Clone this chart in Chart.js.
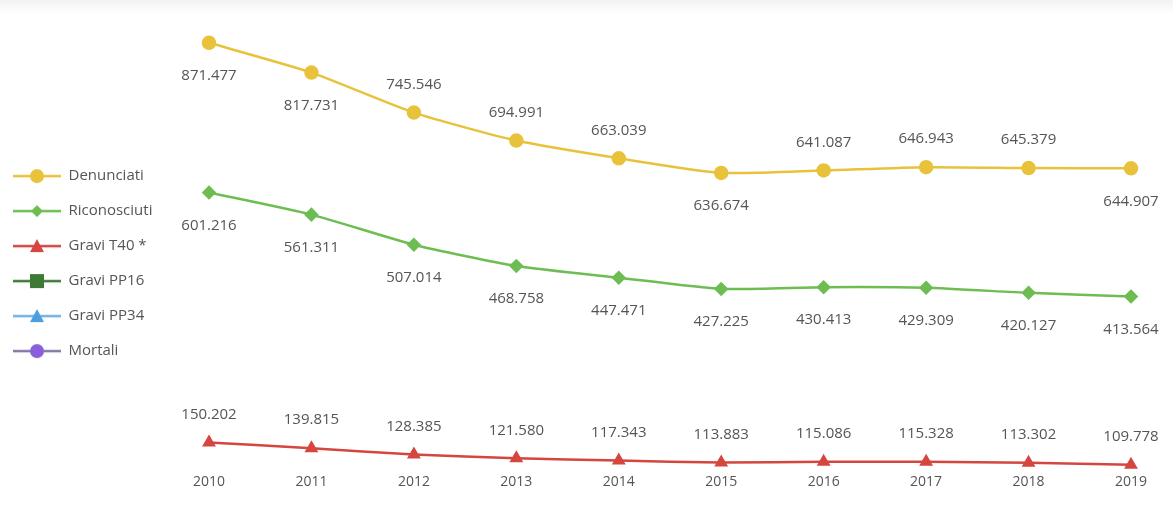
<!DOCTYPE html>
<html lang="it">
<head>
<meta charset="UTF-8">
<title>Infortuni 2010-2019</title>
<script src="https://cdn.jsdelivr.net/npm/chart.js"></script>
<style>
    html, body { margin: 0; padding: 0; background: #fff; }
    .wrap { position: relative; width: 1173px; height: 506px; }
    .top-shade { position: absolute; left: 0; top: 0; width: 1173px; height: 14px; background: linear-gradient(#f2f2f2, #fff); }
</style>
</head>
<body>
<div class="wrap">
    <div class="top-shade"></div>
    <canvas id="chart"></canvas>
</div>

<script>
const years = ['2010', '2011', '2012', '2013', '2014', '2015', '2016', '2017', '2018', '2019'];
const denunciati = [871477, 817731, 745546, 694991, 663039, 636674, 641087, 646943, 645379, 644907];
const riconosciuti = [601216, 561311, 507014, 468758, 447471, 427225, 430413, 429309, 420127, 413564];
const graviT40 = [150202, 139815, 128385, 121580, 117343, 113883, 115086, 115328, 113302, 109778];
// not visible in the picture (below the cropped area)
const graviPP16 = [];
const graviPP34 = [];
const mortali = [];

// where each value label sits relative to its point
const denunciatiLabelPos = ['below', 'below', 'above', 'above', 'above', 'below', 'above', 'above', 'above', 'below'];
const riconosciutiLabelPos = years.map(() => 'below');
const t40LabelPos = years.map(() => 'above');

const textColor = '#555555';
Chart.defaults.font.family = '"Open Sans", sans-serif';
Chart.defaults.color = textColor;

const fmt = v => String(v).replace(/\B(?=(\d{3})+(?!\d))/g, '.');

// legend symbol: short line with the marker in the middle
function legendIcon(lineColor, color, style) {
    const c = document.createElement('canvas');
    c.width = 48; c.height = 18;
    const g = c.getContext('2d');
    g.strokeStyle = lineColor;
    g.lineWidth = 2.5;
    g.beginPath(); g.moveTo(0, 9); g.lineTo(48, 9); g.stroke();
    g.fillStyle = color;
    g.beginPath();
    if (style === 'circle') g.arc(24, 9, 7, 0, Math.PI * 2);
    else if (style === 'rectRot') { g.moveTo(24, 3); g.lineTo(30, 9); g.lineTo(24, 15); g.lineTo(18, 9); g.closePath(); }
    else if (style === 'triangle') { g.moveTo(24, 2); g.lineTo(31, 15); g.lineTo(17, 15); g.closePath(); }
    else if (style === 'rect') g.rect(17, 2, 14, 14);
    g.fill();
    return c;
}

const series = [
    { label: 'Denunciati', data: denunciati, color: '#e9c23b', line: '#e9c23b', style: 'circle', radius: 6, pos: denunciatiLabelPos },
    { label: 'Riconosciuti', data: riconosciuti, color: '#6dbd52', line: '#6dbd52', style: 'rectRot', radius: 5.5, pos: riconosciutiLabelPos },
    { label: 'Gravi T40 *', data: graviT40, color: '#d4463f', line: '#d4463f', style: 'triangle', radius: 5.5, pos: t40LabelPos },
    { label: 'Gravi PP16', data: graviPP16, color: '#3d7a36', line: '#3d7a36', style: 'rect', radius: 6, pos: null },
    { label: 'Gravi PP34', data: graviPP34, color: '#4b9fe0', line: '#72b2e6', style: 'triangle', radius: 6, pos: null },
    { label: 'Mortali', data: mortali, color: '#8b5fdc', line: '#857aa3', style: 'circle', radius: 6, pos: null }
];
const icons = series.map(s => legendIcon(s.line, s.color, s.style));

const valueLabels = {
    id: 'valueLabels',
    afterDatasetsDraw(chart) {
        const ctx = chart.ctx;
        ctx.save();
        ctx.font = '15px "Open Sans", sans-serif';
        ctx.fillStyle = textColor;
        ctx.textAlign = 'center';
        ctx.textBaseline = 'middle';
        chart.data.datasets.forEach((ds, i) => {
            const meta = chart.getDatasetMeta(i);
            if (!ds.labelPos || !chart.isDatasetVisible(i)) return;
            meta.data.forEach((pt, j) => {
                const dy = ds.labelPos[j] === 'above' ? -28 : 33;
                ctx.fillText(fmt(ds.data[j]), pt.x, pt.y + dy);
            });
        });
        ctx.restore();
    }
};

new Chart(document.getElementById('chart'), {
    type: 'line',
    data: {
        labels: years,
        datasets: series.map(s => ({
            label: s.label,
            data: s.data,
            borderColor: s.line,
            backgroundColor: s.color,
            pointBackgroundColor: s.color,
            pointBorderColor: s.color,
            pointStyle: s.style,
            pointRadius: s.radius,
            pointHoverRadius: s.radius + 1,
            borderWidth: 2.5,
            tension: 0.2,
            labelPos: s.pos
        }))
    },
    options: {
        responsive: true,
        maintainAspectRatio: false,
        animation: false,
        layout: { padding: { left: -7, right: 42, top: 27, bottom: 13 } },
        plugins: {
            tooltip: { mode: 'index', intersect: false },
            legend: {
                position: 'left',
                title: { display: true, text: '', padding: { top: 6, bottom: 0 }, font: { size: 1 } },
                labels: {
                    usePointStyle: true,
                    pointStyleWidth: 48,
                    padding: 20,
                    color: textColor,
                    font: { size: 15 },
                    generateLabels(chart) {
                        const items = Chart.defaults.plugins.legend.labels.generateLabels(chart);
                        items.forEach((it, i) => { it.pointStyle = icons[i]; });
                        return items;
                    }
                }
            }
        },
        scales: {
            x: {
                grid: { display: false, drawTicks: false, tickLength: 0 },
                border: { display: false },
                ticks: { color: textColor, font: { size: 14 }, padding: 3 }
            },
            y: {
                min: 100000,
                max: 900000,
                grid: { display: false, drawTicks: false },
                border: { display: false },
                ticks: { display: false },
                afterFit(scale) {
                    const lw = scale.chart.legend ? scale.chart.legend.width : 160;
                    scale.width = Math.max(0, 216 - lw);
                }
            }
        }
    },
    plugins: [valueLabels]
});
</script>
</body>
</html>
